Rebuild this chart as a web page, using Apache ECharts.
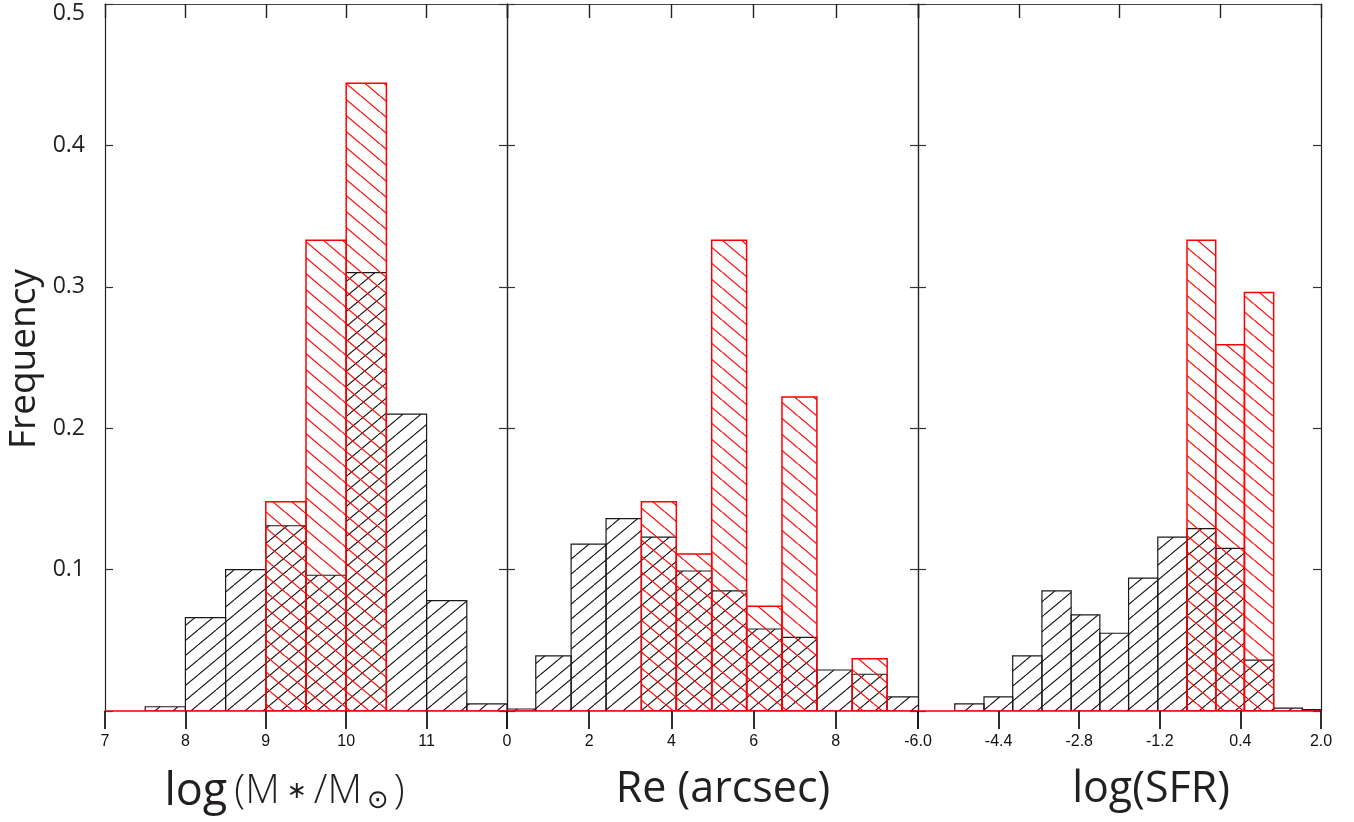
<!DOCTYPE html>
<html>
<head>
<meta charset="utf-8">
<script src="https://cdn.jsdelivr.net/npm/echarts@6/dist/echarts.min.js"></script>
<style>
html,body{margin:0;padding:0;background:#fff;}
#chart{width:1354px;height:822px;}
</style>
</head>
<body>
<div id="chart"></div>
<script>
// ---- data ----
const massEdges = [7.5, 8.0, 8.5, 9.0, 9.5, 10.0, 10.5, 11.0, 11.5, 12.0];
const massAll   = [0.003, 0.066, 0.100, 0.131, 0.096, 0.310, 0.210, 0.078, 0.005];
const massRed   = [0, 0, 0, 0.148, 0.333, 0.444, 0, 0, 0];

const reEdges = [-0.15, 0.70, 1.56, 2.41, 3.27, 4.12, 4.98, 5.83, 6.69, 7.54, 8.40, 9.25, 10.11];
const reAll   = [0.0014, 0.039, 0.118, 0.136, 0.123, 0.099, 0.085, 0.058, 0.052, 0.029, 0.026, 0.010];
const reRed   = [0, 0, 0, 0, 0.148, 0.111, 0.333, 0.074, 0.222, 0, 0.037, 0];

const sfrEdges = [-5.85, -5.27, -4.69, -4.12, -3.54, -2.96, -2.39, -1.82, -1.24, -0.66, -0.09, 0.48, 1.06, 1.63, 2.21];
const sfrAll   = [0, 0.005, 0.010, 0.039, 0.085, 0.068, 0.055, 0.094, 0.123, 0.129, 0.115, 0.036, 0.002, 0.001];
const sfrRed   = [0, 0, 0, 0, 0, 0, 0, 0, 0, 0.333, 0.259, 0.296, 0, 0];

const massLabels = [7, 8, 9, 10, 11];
const reLabels = [0, 2, 4, 6, 8];
const sfrLabels = [-6.0, -4.4, -2.8, -1.2, 0.4, 2.0];

const panels = [
  {edges: massEdges, all: massAll, red: massRed, min: 7, max: 12, interval: 1, topInterval: 1, labels: massLabels, dec: 0},
  {edges: reEdges, all: reAll, red: reRed, min: 0, max: 10, interval: 2, topInterval: 2, labels: reLabels, dec: 0},
  {edges: sfrEdges, all: sfrAll, red: sfrRed, min: -6, max: 2, interval: 1.6, topInterval: 2, labels: sfrLabels, dec: 1}
];

// ---- hatch patterns ----
function hatch(color, dir, w, h, lw) {
  const c = document.createElement('canvas');
  c.width = w; c.height = h;
  const g = c.getContext('2d');
  g.strokeStyle = color; g.lineWidth = lw;
  g.beginPath();
  for (let k = -1; k <= 1; k++) {
    if (dir === '/') { g.moveTo(k * w, h); g.lineTo(k * w + w, 0); }
    else { g.moveTo(k * w, 0); g.lineTo(k * w + w, h); }
  }
  g.stroke();
  return {image: c, repeat: 'repeat'};
}
const blackHatch = hatch('#111111', '/', 18, 15, 1.1);
const redHatch = hatch('#ff1010', '\\', 19, 16, 1.3);

function bins(edges, vals) { return vals.map((v, i) => [edges[i], edges[i + 1], v]); }

function makeRender(pattern, stroke, lw) {
  return function (params, api) {
    const x0 = api.value(0), x1 = api.value(1), v = api.value(2);
    if (!v) return null;
    const p0 = api.coord([x0, v]);
    const p1 = api.coord([x1, 0]);
    return {
      type: 'rect',
      shape: {x: p0[0], y: p0[1], width: p1[0] - p0[0], height: p1[1] - p0[1]},
      style: {fill: pattern, stroke: stroke, lineWidth: lw}
    };
  };
}

const grids = [
  {left: 105, top: 4, width: 402, height: 707},
  {left: 507, top: 4, width: 411, height: 707},
  {left: 918, top: 4, width: 403, height: 707}
];

const xAxes = [], yAxes = [], series = [];
panels.forEach((p, i) => {
  xAxes.push({
    type: 'value', gridIndex: i, position: 'bottom', min: p.min, max: p.max, interval: p.interval, z: 10,
    axisLine: {show: true, onZero: false, lineStyle: {color: '#ff0000', width: 1.5}},
    axisTick: {show: true, inside: false, length: 18, lineStyle: {color: '#1a1a1a', width: 1.8}},
    axisLabel: {show: true, customValues: p.labels, margin: 23, fontFamily: '"Liberation Sans", Arial, sans-serif', fontSize: 16, color: '#111',
      formatter: v => Number(v).toFixed(p.dec)},
    splitLine: {show: false}
  });
  xAxes.push({
    type: 'value', gridIndex: i, position: 'top', min: p.min, max: p.max, interval: p.topInterval,
    axisLine: {show: true, onZero: false, lineStyle: {color: '#444', width: 1.2}},
    axisTick: {show: true, inside: true, length: 14, lineStyle: {color: '#222', width: 1.4}},
    axisLabel: {show: false},
    splitLine: {show: false}
  });
  const yBase = {
    type: 'value', gridIndex: i, min: 0, max: 0.5, interval: 0.1,
    axisLine: {show: true, onZero: false, lineStyle: {color: '#222', width: 1.2}},
    axisTick: {show: true, inside: true, length: 8, lineStyle: {color: '#333', width: 1.2}},
    splitLine: {show: false}
  };
  yAxes.push(Object.assign({}, yBase, {
    position: 'left',
    axisLabel: i === 0 ? {
      show: true, margin: 20, color: '#231f20', fontFamily: '"Open Sans", sans-serif', fontSize: 23,
      formatter: v => (v === 0 ? '' : (Math.abs(v - 0.5) < 1e-9 ? '{top|0.5}' : v.toFixed(1))),
      rich: {top: {fontFamily: '"Open Sans", sans-serif', fontSize: 23, color: '#231f20', padding: [19, 0, 0, 0]}}
    } : {show: false}
  }));
  yAxes.push(Object.assign({}, yBase, {position: 'right', axisLabel: {show: false}}));

  series.push({
    type: 'custom', xAxisIndex: 2 * i, yAxisIndex: 2 * i, clip: true, z: 2,
    renderItem: makeRender(blackHatch, '#1a1a1a', 1.2),
    encode: {x: [0, 1], y: 2},
    data: bins(p.edges, p.all)
  });
  series.push({
    type: 'custom', xAxisIndex: 2 * i, yAxisIndex: 2 * i, clip: true, z: 3,
    renderItem: makeRender(redHatch, '#ff0000', 1.5),
    encode: {x: [0, 1], y: 2},
    data: bins(p.edges, p.red)
  });
});

const titleFont = '"Open Sans", "Noto Sans", sans-serif';
const chart = echarts.init(document.getElementById('chart'), null, {renderer: 'canvas'});
chart.setOption({
  animation: false,
  backgroundColor: '#ffffff',
  grid: grids.map(g => Object.assign({outerBoundsMode: 'none', containLabel: false}, g)),
  xAxis: xAxes,
  yAxis: yAxes,
  series: series,
  graphic: [
    {type: 'text', x: 24, y: 359, rotation: Math.PI / 2,
      style: {text: 'Frequency', font: '37px ' + titleFont, fill: '#231f20', align: 'center', verticalAlign: 'middle'}},
    {type: 'text', x: 723, y: 790,
      style: {text: 'Re (arcsec)', font: '43px ' + titleFont, fill: '#231f20', align: 'center', verticalAlign: 'middle'}},
    {type: 'text', x: 1151, y: 790,
      style: {text: 'log(SFR)', font: '43px ' + titleFont, fill: '#231f20', align: 'center', verticalAlign: 'middle'}},
    {type: 'text', x: 286, y: 792,
      style: {
        text: '{a|log}{b|(M}{s|∗}{b|/M}{c|⊙}{b|)}', align: 'center', verticalAlign: 'middle', fill: '#231f20',
        rich: {
          a: {fontFamily: titleFont, fontSize: 45, fill: '#231f20', color: '#231f20', padding: [0, 4, 0, 0]},
          b: {fontFamily: titleFont, fontSize: 40, fontWeight: 300, fill: '#231f20', color: '#231f20', padding: [0, 3, 0, 3]},
          s: {fontFamily: '"DejaVu Sans", sans-serif', fontSize: 24, fill: '#231f20', color: '#231f20', padding: [0, 4, 0, 4]},
          c: {fontFamily: '"DejaVu Sans", sans-serif', fontSize: 26, fill: '#231f20', color: '#231f20', verticalAlign: 'bottom', padding: [18, 2, 0, 2]}
        }
      }}
  ]
});
</script>
</body>
</html>
